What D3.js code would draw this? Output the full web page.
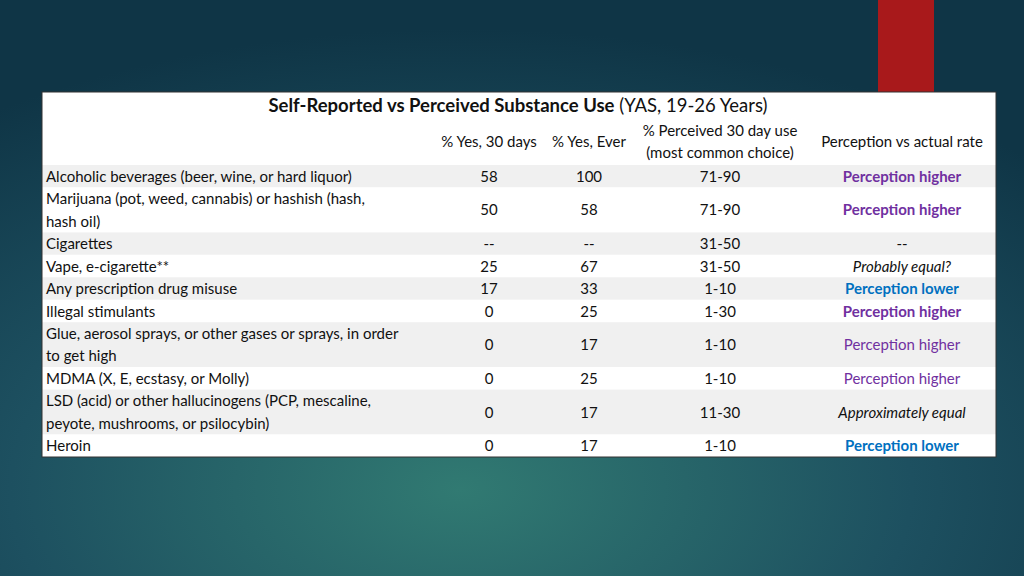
<!DOCTYPE html>
<html><head><meta charset="utf-8">
<script src="https://cdn.jsdelivr.net/npm/d3@7"></script>
<style>body{margin:0;overflow:hidden}svg{display:block;font-family:Lato,"Open Sans",sans-serif}</style>
</head><body>
<svg width="1024" height="576"></svg>
<script>
// table contents
const substances = [
  ["Alcoholic beverages (beer, wine, or hard liquor)"],
  ["Marijuana (pot, weed, cannabis) or hashish (hash,", "hash oil)"],
  ["Cigarettes"],
  ["Vape, e-cigarette**"],
  ["Any prescription drug misuse"],
  ["Illegal stimulants"],
  ["Glue, aerosol sprays, or other gases or sprays, in order", "to get high"],
  ["MDMA (X, E, ecstasy, or Molly)"],
  ["LSD (acid) or other hallucinogens (PCP, mescaline,", "peyote, mushrooms, or psilocybin)"],
  ["Heroin"]
];
const yes30 = ["58", "50", "--", "25", "17", "0", "0", "0", "0", "0"];
const yesEver = ["100", "58", "--", "67", "33", "25", "17", "25", "17", "17"];
const perceived = ["71-90", "71-90", "31-50", "31-50", "1-10", "1-30", "1-10", "1-10", "11-30", "1-10"];
const comparison = ["Perception higher", "Perception higher", "--", "Probably equal?", "Perception lower",
  "Perception higher", "Perception higher", "Perception higher", "Approximately equal", "Perception lower"];
const compStyle = ["hi", "hi", "plain", "it", "lo", "hi", "hiLight", "hiLight", "it", "lo"];
const columnHeads = [["% Yes, 30 days"], ["% Yes, Ever"], ["% Perceived 30 day use", "(most common choice)"], ["Perception vs actual rate"]];

const svg = d3.select("svg");
const defs = svg.append("defs");
const g = defs.append("radialGradient").attr("id", "bg").attr("cx", "45%").attr("cy", "85%").attr("r", "80%");
g.append("stop").attr("offset", "0%").attr("stop-color", "#317a72");
g.append("stop").attr("offset", "55%").attr("stop-color", "#1d5060");
g.append("stop").attr("offset", "100%").attr("stop-color", "#0f3546");
svg.append("rect").attr("width", 1024).attr("height", 576).attr("fill", "url(#bg)");
svg.append("rect").attr("x", 878).attr("y", 0).attr("width", 56).attr("height", 92).attr("fill", "#a8191b");

// table frame
svg.append("rect").attr("x", 42).attr("y", 92).attr("width", 954).attr("height", 365).attr("fill", "#fff");

// rows: variable height by line count
const units = substances.map(d => d.length);
const cum = [0];
units.forEach(u => cum.push(cum[cum.length - 1] + u));
const y = d3.scaleLinear().domain([0, cum[cum.length - 1]]).range([165, 457]);
const x = d3.scaleOrdinal().domain(["c1", "c2", "c3", "c4"]).range([489, 589, 720, 902]);
const fs = 15;

svg.append("text").attr("x", 518).attr("y", 112).attr("text-anchor", "middle").attr("font-size", 18.5).attr("fill", "#111")
  .call(t => {
    t.append("tspan").attr("font-weight", "bold").text("Self-Reported vs Perceived Substance Use");
    t.append("tspan").text(" (YAS, 19-26 Years)");
  });

columnHeads.forEach((lines, i) => {
  const cx = x(["c1", "c2", "c3", "c4"][i]);
  lines.forEach((l, j) => {
    svg.append("text").attr("x", cx).attr("text-anchor", "middle").attr("font-size", fs).attr("fill", "#111")
      .attr("y", lines.length === 1 ? 147 : 136 + j * 22).text(l);
  });
});

const rows = svg.selectAll("g.row").data(substances).join("g").attr("class", "row");
rows.append("rect").attr("x", 42).attr("width", 954)
  .attr("y", (d, i) => y(cum[i])).attr("height", (d, i) => y(cum[i + 1]) - y(cum[i]))
  .attr("fill", (d, i) => i % 2 === 0 ? "#f0f0f0" : "#fff");
rows.each(function (d, i) {
  const sel = d3.select(this);
  const top = y(cum[i]), bot = y(cum[i + 1]), mid = (top + bot) / 2;
  const lh = y(1) - y(0);
  d.forEach((l, j) => {
    sel.append("text").attr("x", 46).attr("y", top + lh * j + lh / 2 + 5.5).attr("font-size", fs).attr("fill", "#111").text(l);
  });
  [[yes30[i], "c1"], [yesEver[i], "c2"], [perceived[i], "c3"]].forEach(([v, c]) => {
    sel.append("text").attr("x", x(c)).attr("y", mid + 5.5).attr("text-anchor", "middle").attr("font-size", fs).attr("fill", "#111").text(v);
  });
  const s = compStyle[i];
  sel.append("text").attr("x", x("c4")).attr("y", mid + 5.5).attr("text-anchor", "middle").attr("font-size", fs)
    .attr("font-weight", s === "hi" || s === "lo" ? "bold" : "normal")
    .attr("font-style", s === "it" ? "italic" : "normal")
    .attr("fill", s === "hi" || s === "hiLight" ? "#7030a0" : s === "lo" ? "#0070c0" : "#111")
    .text(comparison[i]);
});
svg.append("rect").attr("x", 42).attr("y", 92).attr("width", 954).attr("height", 365).attr("fill", "none").attr("stroke", "#333").attr("stroke-width", 1);
</script>
</body></html>
